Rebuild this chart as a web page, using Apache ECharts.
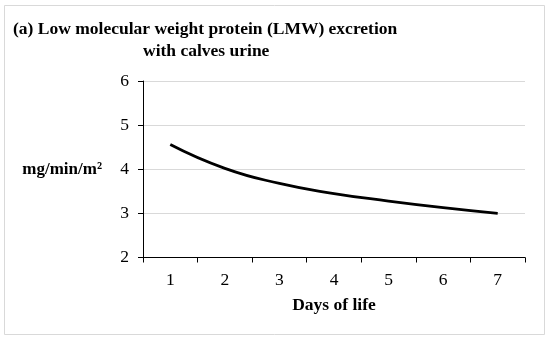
<!DOCTYPE html>
<html><head><meta charset="utf-8">
<script src="https://cdn.jsdelivr.net/npm/echarts@6/dist/echarts.min.js"></script>
<style>html,body{margin:0;padding:0;background:#fff}#c{width:550px;height:340px}</style>
</head><body><div id="c"></div>
<script>
var categories = ['1','2','3','4','5','6','7'];
var lmwValues = [4.56, 4.02, 3.68, 3.45, 3.28, 3.13, 3.0];
var yTicks = {min: 2, max: 6, interval: 1};

var chart = echarts.init(document.getElementById('c'), null, {renderer: 'canvas'});
var serif = '"Liberation Serif","Times New Roman",serif';
chart.setOption({
  backgroundColor: '#fff',
  animation: false,
  graphic: [{type: 'rect', shape: {x: 4.5, y: 5.5, width: 540, height: 329}, style: {fill: 'none', stroke: '#d9d9d9', lineWidth: 1}}],
  title: [{
    text: '(a) Low molecular weight protein (LMW) excretion',
    left: 13, top: 20, padding: 0,
    textStyle: {fontFamily: serif, fontWeight: 'bold', fontSize: 17.5, color: '#000'}
  }, {
    text: 'with calves urine',
    left: 143, top: 42, padding: 0,
    textStyle: {fontFamily: serif, fontWeight: 'bold', fontSize: 17.5, color: '#000'}
  }],
  grid: {left: 143, right: 25, top: 81, bottom: 82.5, containLabel: false, outerBoundsMode: 'none'},
  xAxis: {
    type: 'category', data: categories, boundaryGap: true,
    name: 'Days of life', nameLocation: 'middle', nameGap: 39,
    nameTextStyle: {fontFamily: serif, fontWeight: 'bold', fontSize: 17.5, color: '#000'},
    axisLine: {lineStyle: {color: '#000', width: 1}},
    axisTick: {show: true, alignWithLabel: false, length: 5, lineStyle: {color: '#000'}},
    axisLabel: {fontFamily: serif, fontSize: 17.5, color: '#000', margin: 14},
    splitLine: {show: false}
  },
  yAxis: {
    type: 'value', min: yTicks.min, max: yTicks.max, interval: yTicks.interval,
    name: 'mg/min/m²', nameLocation: 'middle', nameRotate: 0, nameGap: 41,
    nameTextStyle: {fontFamily: serif, fontWeight: 'bold', fontSize: 17, color: '#000', padding: [0, 0, 10, 0]},
    axisLine: {show: true, lineStyle: {color: '#000', width: 1}},
    axisTick: {show: true, length: 5, lineStyle: {color: '#000'}},
    axisLabel: {fontFamily: serif, fontSize: 17.5, color: '#000', margin: 14},
    splitLine: {show: true, lineStyle: {color: '#d9d9d9', width: 1}}
  },
  series: [{
    type: 'line', data: lmwValues, smooth: true, showSymbol: false,
    lineStyle: {color: '#000', width: 2.8}
  }]
});
</script></body></html>
